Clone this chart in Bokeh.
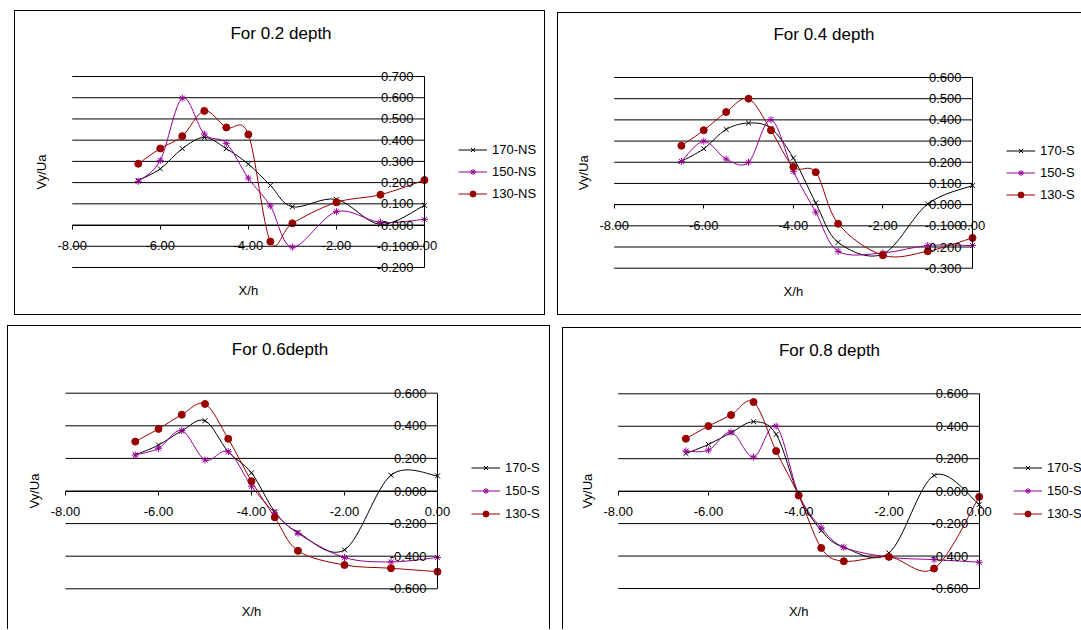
import math
from bokeh.plotting import figure
from bokeh.models import (LinearAxis, FixedTicker, NumeralTickFormatter, Legend, LegendItem,
                          Label, Range1d, Spacer, ColumnDataSource)
from bokeh.layouts import row, column
from bokeh.embed import file_html
from bokeh.resources import INLINE

FONT = "Liberation Sans"

# ---------------- data ----------------
x_pos = [-6.5, -6.0, -5.5, -5.0, -4.5, -4.0, -3.5, -3.0, -2.0, -1.0, 0.0]
x_ticks = [-8, -6, -4, -2, 0]
X_MIN, X_MAX = -8.0, 0.0

titles = ["For 0.2 depth", "For 0.4 depth", "For 0.6depth", "For 0.8 depth"]
names_ns = ["170-NS", "150-NS", "130-NS"]
names_s = ["170-S", "150-S", "130-S"]

# depth 0.2
d02_170 = [0.210, 0.265, 0.360, 0.413, 0.360, 0.287, 0.187, 0.086, 0.121, 0.003, 0.093]
d02_150 = [0.206, 0.305, 0.598, 0.429, 0.385, 0.221, 0.090, -0.104, 0.063, 0.013, 0.027]
d02_130 = [0.289, 0.361, 0.419, 0.538, 0.460, 0.427, -0.078, 0.008, 0.107, 0.143, 0.212]
# depth 0.4
d04_170 = [0.204, 0.264, 0.355, 0.385, 0.360, 0.220, 0.008, -0.178, -0.233, 0.003, 0.090]
d04_150 = [0.204, 0.299, 0.215, 0.200, 0.401, 0.157, -0.035, -0.220, -0.228, -0.193, -0.193]
d04_130 = [0.278, 0.351, 0.437, 0.500, 0.351, 0.178, 0.153, -0.090, -0.239, -0.220, -0.157]
# depth 0.6
d06_170 = [0.221, 0.282, 0.369, 0.431, 0.241, 0.111, -0.126, -0.254, -0.361, 0.097, 0.093]
d06_150 = [0.221, 0.262, 0.371, 0.190, 0.241, 0.029, -0.134, -0.260, -0.408, -0.435, -0.408]
d06_130 = [0.303, 0.381, 0.468, 0.534, 0.320, 0.060, -0.161, -0.367, -0.454, -0.474, -0.495]
# depth 0.8
d08_170 = [0.232, 0.288, 0.360, 0.428, 0.350, -0.025, -0.243, -0.346, -0.381, 0.097, -0.082]
d08_150 = [0.247, 0.253, 0.364, 0.210, 0.401, -0.021, -0.226, -0.346, -0.407, -0.422, -0.438]
d08_130 = [0.323, 0.401, 0.469, 0.549, 0.247, -0.027, -0.350, -0.432, -0.405, -0.477, -0.035]

yticks_02 = [-0.2, -0.1, 0.0, 0.1, 0.2, 0.3, 0.4, 0.5, 0.6, 0.7]
yticks_04 = [-0.3, -0.2, -0.1, 0.0, 0.1, 0.2, 0.3, 0.4, 0.5, 0.6]
yticks_68 = [-0.6, -0.4, -0.2, 0.0, 0.2, 0.4, 0.6]

COLORS = ["#000000", "#990099", "#990000"]
MARKERS = ["x", "asterisk", "circle"]
SIZES = [7, 7, 7]


def smooth_segments(xs, ys):
    """Bezier control points (Catmull-Rom style, like Excel's smoothed line)."""
    n = len(xs)
    out = dict(x0=[], y0=[], x1=[], y1=[], cx0=[], cy0=[], cx1=[], cy1=[])
    for i in range(n - 1):
        i0 = max(i - 1, 0)
        i3 = min(i + 2, n - 1)
        out["x0"].append(xs[i]); out["y0"].append(ys[i])
        out["x1"].append(xs[i + 1]); out["y1"].append(ys[i + 1])
        out["cx0"].append(xs[i] + (xs[i + 1] - xs[i0]) / 6.0)
        out["cy0"].append(ys[i] + (ys[i + 1] - ys[i0]) / 6.0)
        out["cx1"].append(xs[i + 1] - (xs[i3] - xs[i]) / 6.0)
        out["cy1"].append(ys[i + 1] - (ys[i3] - ys[i]) / 6.0)
    return out


def make_panel(w, h, bl, br, bt, bb, box_w, yticks, series, names, title, borders, pitch):
    ymin, ymax = yticks[0], yticks[-1]
    plot_w = w - bl - br
    plot_h = h - bt - bb
    ux = (X_MAX - X_MIN) / plot_w
    uy = (ymax - ymin) / plot_h
    p = figure(width=w, height=h,
               x_range=Range1d(X_MIN - bl * ux, X_MAX + br * ux),
               y_range=Range1d(ymin - bb * uy, ymax + bt * uy),
               output_backend="svg", toolbar_location=None,
               x_axis_location=None, y_axis_location=None,
               min_border_left=0, min_border_right=0, min_border_top=0, min_border_bottom=0,
               border_fill_color=None, background_fill_color=None, outline_line_color=None)
    p.xgrid.visible = False
    p.ygrid.visible = False

    style = {"box-sizing": "border-box"}
    for side in borders:
        style["border-" + side] = "1px solid #000000"
    p.styles = style

    # horizontal major gridlines across the plot area
    p.segment(x0=[X_MIN] * len(yticks), x1=[X_MAX] * len(yticks), y0=yticks, y1=yticks,
              line_color="#000000", line_width=1)

    # value axis crossing at x = 0, category axis at y = 0
    ya = LinearAxis(fixed_location=X_MAX, bounds=(ymin, ymax), ticker=FixedTicker(ticks=yticks),
                    formatter=NumeralTickFormatter(format="0.000"),
                    major_tick_out=0, major_tick_in=0, minor_tick_out=0, minor_tick_in=0,
                    major_label_standoff=11, axis_line_color="#000000",
                    major_label_text_font=FONT, major_label_text_font_size="13px",
                    major_label_text_color="#000000")
    xa = LinearAxis(fixed_location=0, bounds=(X_MIN, X_MAX), ticker=FixedTicker(ticks=x_ticks),
                    formatter=NumeralTickFormatter(format="0.00"),
                    major_tick_out=4, major_tick_in=0, minor_tick_out=0, minor_tick_in=0,
                    major_tick_line_color="#000000",
                    major_label_standoff=12, axis_line_color="#000000",
                    major_label_text_font=FONT, major_label_text_font_size="13px",
                    major_label_text_color="#000000")
    p.add_layout(ya, "left")
    p.add_layout(xa, "below")

    items = []
    for ys, name, col, mk, sz in zip(series, names, COLORS, MARKERS, SIZES):
        seg = ColumnDataSource(smooth_segments(x_pos, ys))
        bz = p.bezier(x0="x0", y0="y0", x1="x1", y1="y1", cx0="cx0", cy0="cy0",
                      cx1="cx1", cy1="cy1", source=seg, line_color=col, line_width=1)
        src = ColumnDataSource(dict(x=x_pos, y=ys))
        if mk == "circle":
            sr = p.scatter("x", "y", source=src, marker=mk, size=sz, fill_color=col,
                           line_color=col)
        else:
            sr = p.scatter("x", "y", source=src, marker=mk, size=sz, line_color=col,
                           line_width=1)
        items.append(LegendItem(label=name, renderers=[bz, sr]))

    spacing = int(pitch - 15)
    leg_h = 3 * 15 + 2 * spacing
    legend = Legend(items=items,
                    location=(int(round(w - br + 34)), int(round(bb + plot_h / 2 - leg_h / 2))),
                    padding=0, margin=0, spacing=spacing, glyph_width=29, glyph_height=15,
                    label_height=15, label_standoff=5, border_line_color=None,
                    background_fill_alpha=0, label_text_font=FONT,
                    label_text_font_size="13px", label_text_color="#000000")
    p.add_layout(legend, "center")

    # chart title, centred on the chart box
    p.add_layout(Label(x=X_MIN - bl * ux + (box_w / 2) * ux, y=ymax + 43.5 * uy,
                       text=title, text_align="center", text_baseline="alphabetic",
                       text_font=FONT, text_font_size="17px", text_color="#000000"))
    # axis titles
    p.add_layout(Label(x=(X_MIN + X_MAX) / 2, y=ymin - 23 * uy, text="X/h",
                       text_align="center", text_baseline="middle",
                       text_font=FONT, text_font_size="13px", text_color="#000000"))
    p.add_layout(Label(x=X_MIN - 31 * ux, y=(ymin + ymax) / 2, text="Vy/Ua", angle=math.pi / 2,
                       text_align="center", text_baseline="middle",
                       text_font=FONT, text_font_size="13px", text_color="#000000"))
    return p


p1 = make_panel(531, 305, 56.7, 122, 65, 49, 531, yticks_02,
                [d02_170, d02_150, d02_130], names_ns, titles[0],
                ["left", "right", "top", "bottom"], 22)
p2 = make_panel(524, 303, 55.7, 110, 64, 48.3, 531, yticks_04,
                [d04_170, d04_150, d04_130], names_s, titles[1],
                ["left", "top", "bottom"], 22)
p3 = make_panel(543, 304, 57, 114, 66.7, 41.7, 543, yticks_68,
                [d06_170, d06_150, d06_130], names_s, titles[2],
                ["left", "right", "top"], 23)
p4 = make_panel(519, 302, 54.7, 103.3, 65.3, 42, 532, yticks_68,
                [d08_170, d08_150, d08_130], names_s, titles[3],
                ["left", "top"], 23)

layout = column(
    Spacer(width=10, height=10),
    row(Spacer(width=14, height=10), p1, Spacer(width=12, height=10),
        column(Spacer(width=10, height=2), p2)),
    Spacer(width=10, height=10),
    row(Spacer(width=7, height=10), p3, Spacer(width=12, height=10),
        column(Spacer(width=10, height=2), p4)),
)

open("out.html", "w").write(file_html(layout, INLINE, title="Vy/Ua charts"))
